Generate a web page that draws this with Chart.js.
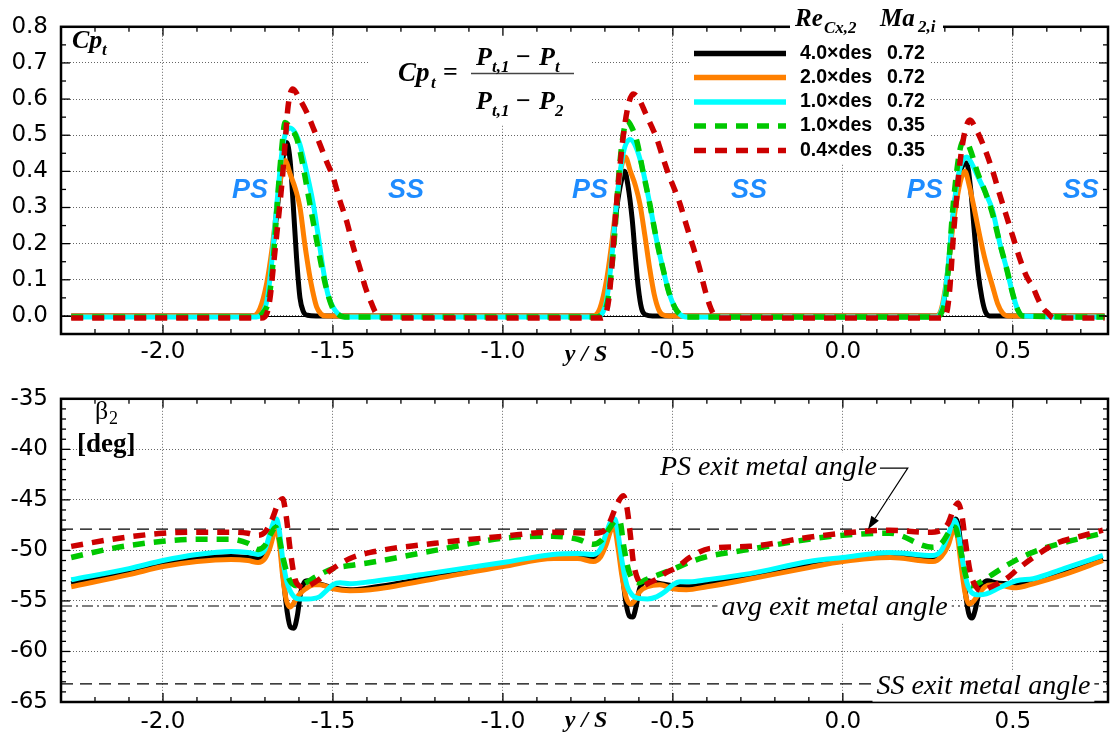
<!DOCTYPE html>
<html>
<head>
<meta charset="utf-8">
<script src="https://cdn.jsdelivr.net/npm/chart.js@4.4.1/dist/chart.umd.min.js"></script>
<style>
  body { margin: 0; background: #fff; width: 1110px; height: 738px; overflow: hidden; position: relative; }
  canvas { position: absolute; left: 0; }
</style>
</head>
<body>
<canvas id="cp" width="1110" height="372" style="top:0"></canvas>
<canvas id="beta" width="1110" height="366" style="top:372px"></canvas>
<script>
// ---- data ----
const seriesLabels = ['4.0\u00d7des', '2.0\u00d7des', '1.0\u00d7des', '1.0\u00d7des', '0.4\u00d7des'];
const machLabels = ['0.72', '0.72', '0.72', '0.35', '0.35'];
const xTicks = [-2.0, -1.5, -1.0, -0.5, 0.0, 0.5];
const cpTicks = [0.0, 0.1, 0.2, 0.3, 0.4, 0.5, 0.6, 0.7, 0.8];
const betaTicks = [-65, -60, -55, -50, -45, -40, -35];
const psMetal = -47.9;
const avgMetal = -55.5;
const ssMetal = -63.2;

// total pressure loss Cp_t, [y/S, Cp_t]
const cp40 = [[-2.27,0],[-1.73,0],[-1.71,0.02],[-1.69,0.09],[-1.675,0.2],[-1.66,0.33],[-1.648,0.43],[-1.636,0.48],[-1.626,0.43],[-1.617,0.31],[-1.607,0.16],[-1.597,0.05],[-1.587,0.012],[-1.575,0.002],[-1.55,0],
  [-0.73,0],[-0.71,0.02],[-0.69,0.1],[-0.675,0.22],[-0.662,0.32],[-0.65,0.38],[-0.642,0.40],[-0.632,0.36],[-0.62,0.27],[-0.61,0.16],[-0.602,0.08],[-0.592,0.02],[-0.58,0.003],[-0.56,0],
  [0.28,0],[0.295,0.03],[0.31,0.13],[0.325,0.28],[0.34,0.38],[0.352,0.415],[0.364,0.423],[0.375,0.36],[0.388,0.22],[0.398,0.12],[0.409,0.05],[0.42,0.01],[0.432,0],[0.77,0]];
const cp20 = [[-2.27,0],[-1.735,0],[-1.715,0.02],[-1.695,0.09],[-1.68,0.18],[-1.665,0.3],[-1.652,0.39],[-1.641,0.43],[-1.625,0.39],[-1.61,0.35],[-1.597,0.30],[-1.583,0.2],[-1.57,0.12],[-1.56,0.07],[-1.548,0.025],[-1.535,0.005],[-1.52,0],
  [-0.735,0],[-0.715,0.02],[-0.695,0.1],[-0.68,0.2],[-0.665,0.32],[-0.652,0.41],[-0.64,0.44],[-0.625,0.4],[-0.61,0.36],[-0.597,0.31],[-0.582,0.22],[-0.568,0.13],[-0.555,0.06],[-0.542,0.018],[-0.53,0.003],[-0.51,0],
  [0.275,0],[0.29,0.02],[0.305,0.1],[0.32,0.22],[0.335,0.32],[0.348,0.38],[0.359,0.40],[0.372,0.36],[0.388,0.29],[0.403,0.22],[0.42,0.15],[0.441,0.08],[0.455,0.035],[0.47,0.008],[0.485,0],[0.77,0]];
const cp10 = [[-2.27,-0.003],[-1.725,-0.003],[-1.705,0.012],[-1.694,0.043],[-1.68,0.15],[-1.665,0.31],[-1.647,0.474],[-1.626,0.52],[-1.61,0.505],[-1.597,0.474],[-1.578,0.4],[-1.558,0.31],[-1.543,0.22],[-1.529,0.13],[-1.515,0.06],[-1.5,0.025],[-1.485,0.006],[-1.465,-0.003],
  [-0.725,-0.003],[-0.705,0.012],[-0.695,0.043],[-0.68,0.16],[-0.666,0.31],[-0.646,0.45],[-0.626,0.488],[-0.61,0.47],[-0.59,0.41],[-0.568,0.31],[-0.548,0.21],[-0.529,0.13],[-0.51,0.06],[-0.495,0.025],[-0.48,0.005],[-0.46,-0.003],
  [0.275,-0.003],[0.29,0.015],[0.3,0.06],[0.312,0.16],[0.325,0.29],[0.338,0.38],[0.35,0.425],[0.365,0.44],[0.38,0.42],[0.395,0.39],[0.42,0.34],[0.441,0.29],[0.462,0.2],[0.482,0.13],[0.5,0.06],[0.515,0.016],[0.53,0],[0.77,-0.003]];
const cp10lo = [[-2.27,-0.003],[-1.725,-0.003],[-1.705,0.01],[-1.69,0.04],[-1.68,0.11],[-1.672,0.2],[-1.66,0.36],[-1.65,0.47],[-1.641,0.535],[-1.625,0.52],[-1.606,0.49],[-1.587,0.41],[-1.568,0.31],[-1.55,0.22],[-1.532,0.13],[-1.515,0.06],[-1.5,0.02],[-1.485,0.004],[-1.465,-0.003],
  [-0.725,-0.003],[-0.705,0.01],[-0.692,0.04],[-0.68,0.13],[-0.67,0.24],[-0.66,0.38],[-0.648,0.49],[-0.635,0.54],[-0.62,0.52],[-0.605,0.48],[-0.588,0.4],[-0.568,0.31],[-0.548,0.21],[-0.529,0.13],[-0.51,0.06],[-0.495,0.025],[-0.48,0.005],[-0.46,-0.003],
  [0.275,-0.003],[0.292,0.012],[0.302,0.05],[0.312,0.15],[0.322,0.28],[0.335,0.4],[0.347,0.47],[0.359,0.488],[0.375,0.46],[0.395,0.4],[0.42,0.34],[0.441,0.28],[0.462,0.2],[0.482,0.13],[0.5,0.06],[0.515,0.016],[0.53,0],[0.77,-0.003]];
const cp04 = [[-2.27,-0.006],[-1.71,-0.006],[-1.694,0.008],[-1.685,0.05],[-1.676,0.13],[-1.666,0.22],[-1.656,0.31],[-1.648,0.39],[-1.641,0.474],[-1.632,0.58],[-1.618,0.628],[-1.598,0.6],[-1.577,0.563],[-1.558,0.52],[-1.538,0.474],[-1.52,0.43],[-1.5,0.385],[-1.48,0.32],[-1.459,0.26],[-1.44,0.19],[-1.42,0.13],[-1.405,0.08],[-1.39,0.043],[-1.375,0.01],[-1.36,-0.006],
  [-0.71,-0.006],[-0.696,0.01],[-0.688,0.05],[-0.68,0.13],[-0.671,0.25],[-0.66,0.37],[-0.647,0.49],[-0.632,0.58],[-0.617,0.614],[-0.6,0.6],[-0.58,0.56],[-0.563,0.525],[-0.547,0.49],[-0.53,0.44],[-0.512,0.39],[-0.495,0.35],[-0.479,0.31],[-0.46,0.25],[-0.44,0.19],[-0.421,0.13],[-0.405,0.07],[-0.392,0.03],[-0.382,0.008],[-0.37,-0.006],
  [0.29,-0.006],[0.305,0.008],[0.315,0.08],[0.325,0.22],[0.335,0.33],[0.344,0.42],[0.359,0.51],[0.374,0.542],[0.39,0.52],[0.41,0.48],[0.441,0.40],[0.46,0.34],[0.48,0.28],[0.5,0.22],[0.52,0.16],[0.54,0.11],[0.559,0.08],[0.575,0.045],[0.59,0.02],[0.603,0.008],[0.62,-0.006],[0.77,-0.006]];

// exit flow angle beta_2 [deg], [y/S, beta_2]
const b40 = [[-2.27,-53.3],[-2.1,-52.1],[-2.0,-51.3],[-1.9,-50.8],[-1.8,-50.6],[-1.75,-50.7],[-1.72,-50.8],[-1.7,-50.4],[-1.685,-49.2],[-1.672,-47.6],[-1.665,-47.5],[-1.655,-49.5],[-1.645,-53],[-1.635,-56],[-1.625,-57.6],[-1.615,-57.7],[-1.605,-56.5],[-1.595,-54.2],[-1.585,-53.2],[-1.575,-53.0],[-1.55,-53.2],[-1.5,-53.7],[-1.45,-53.9],[-1.39,-53.7],[-1.2,-52.6],[-1.0,-51.3],[-0.85,-50.6],[-0.78,-50.5],[-0.735,-50.7],[-0.71,-50.2],[-0.695,-49.0],[-0.678,-47.4],[-0.67,-47.3],[-0.66,-49.2],[-0.648,-52.5],[-0.638,-55.2],[-0.628,-56.5],[-0.618,-56.6],[-0.608,-55.5],[-0.598,-53.8],[-0.585,-53.1],[-0.575,-53.0],[-0.55,-53.2],[-0.5,-53.5],[-0.46,-53.6],[-0.4,-53.3],[-0.3,-52.7],[-0.1,-51.4],[0.0,-50.9],[0.14,-50.4],[0.265,-50.7],[0.29,-50.3],[0.31,-49.0],[0.325,-47.3],[0.332,-46.9],[0.34,-47.6],[0.35,-50.5],[0.36,-54],[0.37,-56.2],[0.38,-56.7],[0.39,-55.8],[0.4,-54.2],[0.41,-53.4],[0.426,-53.0],[0.45,-53.2],[0.5,-53.3],[0.56,-53.0],[0.65,-52.2],[0.765,-50.8]];
const b20 = [[-2.27,-53.6],[-2.1,-52.4],[-2.0,-51.6],[-1.9,-51.1],[-1.8,-50.9],[-1.75,-51.0],[-1.72,-51.2],[-1.7,-50.8],[-1.685,-49.7],[-1.672,-48.2],[-1.665,-48.0],[-1.657,-49.5],[-1.648,-52.5],[-1.638,-54.8],[-1.626,-55.6],[-1.615,-55.2],[-1.6,-54.4],[-1.58,-53.8],[-1.555,-53.4],[-1.538,-53.4],[-1.5,-53.8],[-1.45,-54.0],[-1.39,-53.9],[-1.2,-52.8],[-1.0,-51.6],[-0.85,-50.8],[-0.78,-50.8],[-0.734,-51.1],[-0.712,-50.6],[-0.697,-49.5],[-0.68,-47.9],[-0.672,-47.8],[-0.662,-49.6],[-0.65,-52.5],[-0.638,-54.6],[-0.625,-55.3],[-0.613,-55.0],[-0.598,-54.1],[-0.575,-53.6],[-0.538,-53.4],[-0.5,-53.8],[-0.46,-53.9],[-0.4,-53.6],[-0.3,-53.0],[-0.1,-51.7],[0.0,-51.1],[0.14,-50.7],[0.265,-51.1],[0.29,-50.6],[0.31,-49.5],[0.324,-48.1],[0.33,-48.0],[0.338,-48.8],[0.348,-51.5],[0.36,-54.3],[0.372,-55.3],[0.385,-55.0],[0.4,-54.3],[0.418,-53.6],[0.44,-53.4],[0.47,-53.5],[0.51,-53.7],[0.56,-53.3],[0.65,-52.4],[0.765,-51.0]];
const b10 = [[-2.27,-52.9],[-2.1,-51.8],[-2.0,-51.0],[-1.9,-50.4],[-1.8,-50.1],[-1.75,-50.2],[-1.72,-50.4],[-1.7,-49.9],[-1.685,-48.3],[-1.672,-47.0],[-1.666,-46.9],[-1.658,-48.0],[-1.648,-50.8],[-1.635,-53.2],[-1.621,-54.3],[-1.6,-54.8],[-1.575,-54.8],[-1.54,-54.6],[-1.52,-54.0],[-1.5,-53.4],[-1.479,-53.2],[-1.45,-53.3],[-1.39,-53.1],[-1.2,-52.2],[-1.0,-51.2],[-0.853,-50.4],[-0.78,-50.3],[-0.734,-50.4],[-0.712,-49.8],[-0.697,-48.4],[-0.68,-47.0],[-0.671,-46.9],[-0.662,-48.2],[-0.65,-51.0],[-0.635,-53.5],[-0.62,-54.4],[-0.607,-54.7],[-0.575,-54.8],[-0.548,-54.6],[-0.52,-54.0],[-0.5,-53.4],[-0.479,-53.1],[-0.45,-53.1],[-0.4,-52.9],[-0.274,-52.3],[-0.1,-51.1],[0.0,-50.7],[0.138,-50.2],[0.265,-50.5],[0.29,-50.0],[0.31,-48.5],[0.322,-47.3],[0.329,-47.0],[0.338,-47.8],[0.35,-50.6],[0.365,-53.2],[0.38,-54.2],[0.4,-54.4],[0.422,-54.3],[0.46,-53.7],[0.51,-53.0],[0.56,-52.8],[0.65,-51.8],[0.765,-50.5]];
const b10lo = [[-2.27,-50.7],[-2.15,-49.8],[-2.0,-49.1],[-1.9,-48.9],[-1.8,-48.9],[-1.75,-49.3],[-1.72,-49.9],[-1.7,-49.5],[-1.685,-48.5],[-1.668,-47.7],[-1.658,-48.8],[-1.645,-51.0],[-1.628,-52.9],[-1.602,-53.5],[-1.58,-53.2],[-1.55,-52.6],[-1.5,-51.8],[-1.45,-51.5],[-1.39,-51.2],[-1.2,-50.0],[-1.0,-48.8],[-0.853,-48.6],[-0.78,-48.9],[-0.734,-49.4],[-0.71,-49.0],[-0.69,-48.0],[-0.665,-47.0],[-0.655,-47.2],[-0.645,-49.5],[-0.63,-52.0],[-0.615,-53.0],[-0.6,-53.2],[-0.58,-52.9],[-0.55,-52.5],[-0.509,-52.0],[-0.46,-51.3],[-0.41,-50.7],[-0.274,-49.9],[-0.1,-48.9],[0.0,-48.5],[0.138,-48.3],[0.265,-49.7],[0.29,-49.3],[0.31,-48.3],[0.322,-47.7],[0.33,-47.7],[0.34,-48.8],[0.352,-51.0],[0.365,-52.9],[0.378,-53.5],[0.395,-53.3],[0.43,-52.6],[0.481,-51.5],[0.55,-50.3],[0.62,-49.5],[0.765,-48.3]];
const b04 = [[-2.27,-49.6],[-2.15,-48.9],[-2.0,-48.3],[-1.9,-48.2],[-1.8,-48.2],[-1.75,-48.3],[-1.72,-48.5],[-1.7,-48.2],[-1.68,-47.0],[-1.66,-45.3],[-1.648,-44.9],[-1.638,-46.5],[-1.626,-49.9],[-1.612,-52.8],[-1.595,-53.6],[-1.587,-53.7],[-1.565,-53.4],[-1.538,-52.8],[-1.5,-51.8],[-1.45,-50.8],[-1.39,-50.2],[-1.2,-49.3],[-1.0,-48.6],[-0.853,-48.2],[-0.734,-48.3],[-0.71,-48.2],[-0.69,-47.5],[-0.665,-45.5],[-0.646,-44.6],[-0.635,-45.8],[-0.625,-48.5],[-0.617,-51.0],[-0.6,-53.1],[-0.587,-53.5],[-0.57,-53.2],[-0.55,-52.9],[-0.52,-52.2],[-0.489,-51.7],[-0.45,-50.7],[-0.391,-49.8],[-0.274,-49.6],[-0.1,-48.7],[0.0,-48.3],[0.138,-48.0],[0.25,-48.2],[0.29,-48.0],[0.31,-47.3],[0.325,-46.0],[0.339,-45.3],[0.35,-46.5],[0.36,-49.0],[0.375,-52.2],[0.39,-53.5],[0.408,-54.0],[0.43,-53.7],[0.481,-52.8],[0.52,-51.7],[0.56,-50.7],[0.628,-49.3],[0.7,-48.6],[0.765,-48.0]];

// ---- look ----
const X_MIN = -2.3, X_MAX = 0.78;
const GRID = 'rgba(0,0,0,0.6)';
const BLUE = '#1E8CFF';
const styles = [
  { color: '#000000', width: 5, dash: [] },
  { color: '#FF8000', width: 5, dash: [] },
  { color: '#00FFFF', width: 5, dash: [] },
  { color: '#00C800', width: 5.5, dash: [12, 9] },
  { color: '#CC0000', width: 5.5, dash: [12, 9] }
];

Chart.defaults.font.family = 'DejaVu Sans';
Chart.defaults.color = '#000';

function toPts(arr) { return arr.map(p => ({ x: p[0], y: p[1] })); }

function curveSets(series) {
  return series.map((s, i) => ({
    label: seriesLabels[i] + ' ' + machLabels[i],
    data: toPts(s),
    borderColor: styles[i].color,
    borderWidth: styles[i].width,
    borderDash: styles[i].dash,
    borderCapStyle: 'butt',
    pointRadius: 0,
    fill: false,
    cubicInterpolationMode: 'monotone',
    order: 5 - i
  }));
}

function refLine(v, dash) {
  return {
    label: 'ref', data: [{ x: X_MIN, y: v }, { x: X_MAX, y: v }],
    borderColor: '#000', borderWidth: 1.2, borderDash: dash,
    pointRadius: 0, fill: false, order: 10
  };
}

function put(ctx, s, x, y, font, color, align) {
  ctx.font = font;
  ctx.fillStyle = color || '#000';
  ctx.textAlign = align || 'left';
  ctx.textBaseline = 'alphabetic';
  ctx.fillText(s, x, y);
}

function line(ctx, x1, y1, x2, y2) {
  ctx.beginPath(); ctx.moveTo(x1, y1); ctx.lineTo(x2, y2); ctx.stroke();
}

// frame with inward ticks on all four sides
function drawFrame(chart, yStep, yMajor) {
  const { ctx, chartArea: a, scales: { x, y } } = chart;
  ctx.save();
  ctx.strokeStyle = '#000';
  ctx.lineWidth = 1.3;
  ctx.setLineDash([]);
  for (let k = -23; k <= 8; k++) {
    const v = k / 10, px = x.getPixelForValue(v);
    if (px <= a.left + 1 || px >= a.right - 1) continue;
    const L = (k % 5 === 0) ? 9 : 5;
    line(ctx, px, a.bottom, px, a.bottom - L);
    line(ctx, px, a.top, px, a.top + L);
  }
  const n0 = Math.ceil(y.min / yStep), n1 = Math.floor(y.max / yStep);
  for (let k = n0; k <= n1; k++) {
    const py = y.getPixelForValue(k * yStep);
    if (py <= a.top + 1 || py >= a.bottom - 1) continue;
    const L = (k % yMajor === 0) ? 9 : 5;
    line(ctx, a.left, py, a.left + L, py);
    line(ctx, a.right, py, a.right - L, py);
  }
  ctx.lineWidth = 2.5;
  ctx.strokeRect(a.left, a.top, a.right - a.left, a.bottom - a.top);
  ctx.restore();
}

const cpDecor = {
  id: 'cpDecor',
  beforeDatasetsDraw(chart) {
    const { ctx, chartArea: a, scales: { y } } = chart;
    ctx.save();
    ctx.fillStyle = '#fff';
    ctx.fillRect(368, a.top + 1, 222, 123 - a.top);   // formula box
    ctx.fillRect(690, a.top + 1, 240, 163 - a.top);   // legend box
    ctx.strokeStyle = '#000'; ctx.lineWidth = 1;
    const p0 = Math.round(y.getPixelForValue(0)) + 0.5;
    line(ctx, a.left, p0, a.right, p0);
    ctx.restore();
  },
  afterDraw(chart) {
    const { ctx, chartArea: a, scales: { x, y } } = chart;
    drawFrame(chart, 0.05, 2);
    ctx.save();
    const bi = s => 'bold italic ' + s + 'px "Liberation Serif"';
    // y label
    put(ctx, 'Cp', 72, 48, bi(26));
    put(ctx, 't', 102, 55, bi(17));
    // formula
    put(ctx, 'Cp', 398, 81, bi(27));
    put(ctx, 't', 431, 88, bi(17));
    put(ctx, '=', 443, 80, 'bold 26px "Liberation Serif"');
    ctx.strokeStyle = '#444'; ctx.lineWidth = 1.5;
    line(ctx, 471, 73.5, 574, 73.5);
    put(ctx, 'P', 476, 65, bi(26)); put(ctx, 't,1', 492, 72, bi(17));
    put(ctx, '\u2212', 516, 65, 'bold 26px "Liberation Serif"');
    put(ctx, 'P', 539, 65, bi(26)); put(ctx, 't', 555, 72, bi(17));
    put(ctx, 'P', 476, 109, bi(26)); put(ctx, 't,1', 492, 116, bi(17));
    put(ctx, '\u2212', 516, 109, 'bold 26px "Liberation Serif"');
    put(ctx, 'P', 539, 109, bi(26)); put(ctx, '2', 555, 116, bi(17));
    // PS / SS markers
    const lab = 'bold italic 27px "Liberation Sans"';
    const ly = y.getPixelForValue(0.35) + 9;
    [-1.744, -0.744, 0.241].forEach(v => put(ctx, 'PS', x.getPixelForValue(v), ly, lab, BLUE, 'center'));
    [-1.285, -0.276, 0.70].forEach(v => put(ctx, 'SS', x.getPixelForValue(v), ly, lab, BLUE, 'center'));
    // x axis title
    put(ctx, 'y / S', 586, 361, bi(24), '#000', 'center');
    // legend header over the frame
    ctx.fillStyle = '#fff';
    ctx.fillRect(790, 4, 153, 34);
    put(ctx, 'Re', 795, 26, bi(25)); put(ctx, 'Cx,2', 824, 33, bi(17));
    put(ctx, 'Ma', 880, 26, bi(25)); put(ctx, '2,i', 918, 32, bi(17));
    // legend rows
    const rows = [53.5, 77.5, 102, 126, 150.5];
    chart.data.datasets.forEach((d, i) => {
      ctx.strokeStyle = d.borderColor; ctx.lineWidth = 5.3;
      ctx.setLineDash(d.borderDash); ctx.lineCap = 'butt';
      line(ctx, 694, rows[i], 786, rows[i]);
      ctx.setLineDash([]);
      ctx.font = 'bold 19.5px "Liberation Sans"'; ctx.fillStyle = '#000';
      ctx.textAlign = 'left'; ctx.textBaseline = 'middle';
      ctx.fillText(seriesLabels[i], 800, rows[i]);
      ctx.fillText(machLabels[i], 887, rows[i]);
    });
    ctx.restore();
  }
};

const betaDecor = {
  id: 'betaDecor',
  afterDraw(chart) {
    const { ctx, chartArea: a, scales: { x, y } } = chart;
    drawFrame(chart, 1, 5);
    ctx.save();
    const it = '28px "Liberation Serif"';
    // y label
    put(ctx, '\u03b2', 95, 47, '26px "Liberation Serif"');
    put(ctx, '2', 109, 52, '18px "Liberation Serif"');
    put(ctx, '[deg]', 77, 80, 'bold 27px "Liberation Serif"');
    // metal angle labels with white backing
    const lbl = (s, xv, yv) => {
      ctx.font = 'italic ' + it;
      const px = x.getPixelForValue(xv), py = y.getPixelForValue(yv);
      const w = ctx.measureText(s).width;
      ctx.fillStyle = '#fff';
      ctx.fillRect(px - 4, py - 22, w + 8, 30);
      put(ctx, s, px, py, 'italic ' + it);
      return px + w;
    };
    const end = lbl('PS exit metal angle', -0.538, -42.52);
    lbl('avg exit metal angle', -0.357, -56.43);
    lbl('SS exit metal angle', 0.099, -64.17);
    // arrow to PS line
    const yh = y.getPixelForValue(-41.86);
    const cx = x.getPixelForValue(0.191);
    const tx = x.getPixelForValue(0.074), ty = y.getPixelForValue(psMetal);
    ctx.strokeStyle = '#000'; ctx.lineWidth = 1.2;
    ctx.beginPath(); ctx.moveTo(end + 3, yh); ctx.lineTo(cx, yh);
    const ang = Math.atan2(ty - yh, tx - cx);
    const bx = tx - 13 * Math.cos(ang), by = ty - 13 * Math.sin(ang);
    ctx.lineTo(bx, by); ctx.stroke();
    ctx.fillStyle = '#000';
    ctx.beginPath();
    ctx.moveTo(tx, ty);
    ctx.lineTo(bx + 4.5 * Math.sin(ang), by - 4.5 * Math.cos(ang));
    ctx.lineTo(bx - 4.5 * Math.sin(ang), by + 4.5 * Math.cos(ang));
    ctx.closePath(); ctx.fill();
    // x axis title
    put(ctx, 'y / S', 586, 355, 'bold italic 24px "Liberation Serif"', '#000', 'center');
    ctx.restore();
  }
};

function makeChart(id, datasets, yMin, yMax, yTicks, fmt, padTop, xAxisH, xPad, plugin) {
  return new Chart(document.getElementById(id), {
    type: 'line',
    data: { datasets },
    options: {
      responsive: false,
      animation: false,
      devicePixelRatio: 1,
      layout: { padding: { top: padTop, right: 2, left: 0, bottom: 0 } },
      plugins: { legend: { display: false }, tooltip: { enabled: false } },
      scales: {
        x: {
          type: 'linear', min: X_MIN, max: X_MAX,
          afterBuildTicks: s => { s.ticks = xTicks.map(v => ({ value: v })); },
          afterFit: s => { s.height = xAxisH; },
          ticks: { font: { size: 23 }, color: '#000', padding: xPad, maxRotation: 0, autoSkip: false, callback: v => v.toFixed(1) },
          grid: { color: GRID, lineWidth: 1, drawTicks: false },
          border: { display: false, dash: [1, 2] }
        },
        y: {
          type: 'linear', min: yMin, max: yMax,
          afterBuildTicks: s => { s.ticks = yTicks.map(v => ({ value: v })); },
          afterFit: s => { s.width = 61; },
          ticks: { font: { size: 23 }, color: '#000', padding: 13, autoSkip: false, callback: fmt },
          grid: { color: GRID, lineWidth: 1, drawTicks: false },
          border: { display: false, dash: [1, 2] }
        }
      }
    },
    plugins: [plugin]
  });
}

makeChart('cp', curveSets([cp40, cp20, cp10, cp10lo, cp04]), -0.05, 0.8, cpTicks,
  v => v.toFixed(1), 19, 38, 4, cpDecor);

makeChart('beta', curveSets([b40, b20, b10, b10lo, b04]).concat([
  refLine(psMetal, [12, 7]), refLine(avgMetal, [11, 4, 2, 4]), refLine(ssMetal, [12, 7])
]), -65, -35, betaTicks, v => String(v), 15, 36, 6, betaDecor);
</script>
</body>
</html>
